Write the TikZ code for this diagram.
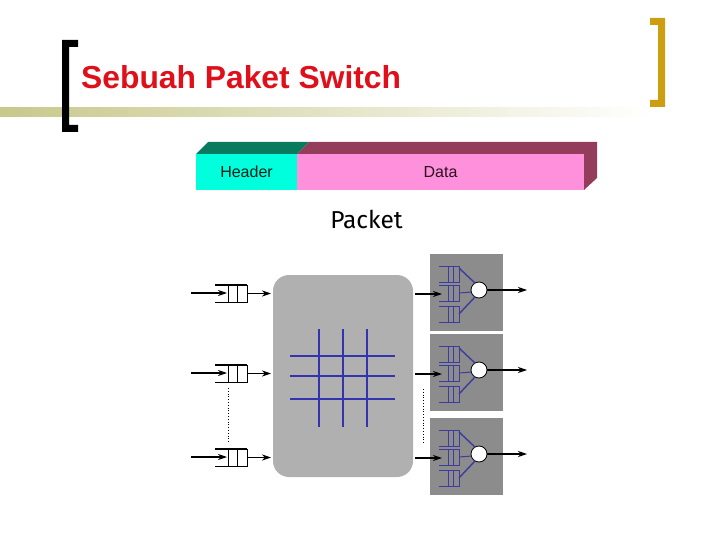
\documentclass[tikz,border=0pt]{standalone}
\usepackage{xcolor}
\usepackage{fontspec}
\setmainfont{Liberation Sans}
\newfontfamily\packetfont{Fira Sans}
\usetikzlibrary{arrows.meta,positioning,calc}
\definecolor{titlered}{HTML}{E0101A}
\definecolor{barolive}{HTML}{C8C88C}
\definecolor{brackgold}{HTML}{CC9E10}
\definecolor{headc}{HTML}{00FFDD}
\definecolor{headtop}{HTML}{087A5E}
\definecolor{datac}{HTML}{FF90DC}
\definecolor{datatop}{HTML}{943C5C}
\definecolor{switchc}{HTML}{B0B0B0}
\definecolor{outc}{HTML}{8C8C8C}
\definecolor{gridc}{HTML}{3434B0}
\definecolor{subq}{HTML}{3C3CA0}
\tikzset{
  cell/.style={inner sep=0pt, outer sep=0pt, minimum height=36pt, font=\fontsize{16}{18}\selectfont},
  arr/.style={-{Stealth[length=9pt, width=6pt]}, line width=1.1pt, draw=black},
  qin/.style={inner sep=0pt, outer sep=0pt, minimum width=32pt, minimum height=17pt},
  qsub/.style={inner sep=0pt, outer sep=0pt, minimum width=20pt, minimum height=16pt},
  outbox/.style={fill=outc, inner sep=0pt, outer sep=0pt, minimum width=73pt, minimum height=77pt},
  sched/.style={circle, draw=black, fill=white, line width=0.8pt, inner sep=0pt, outer sep=0pt, minimum size=16pt},
  gridl/.style={draw=gridc, line width=2pt},
  subl/.style={draw=subq, line width=1pt},
}
\begin{document}
\begin{tikzpicture}[x=1pt, y=-1pt]
  \useasboundingbox (0,0) rectangle (720,540);
  \shade[left color=barolive, right color=white] (0,108) rectangle (652,117);
  \fill[black] (62,40) -- (78,40) -- (78,47) -- (69,47) -- (69,125) -- (78,125) -- (78,132) -- (62,132) -- cycle;
  \fill[brackgold] (650,18) -- (665,18) -- (665,107) -- (650,107) -- (650,100) -- (658,100) -- (658,25) -- (650,25) -- cycle;
  \node[anchor=base west, inner sep=0pt, text=titlered, font=\fontsize{31.8}{34}\selectfont\bfseries] (title) at (81,89) {Sebuah Paket Switch};

  \node[cell, fill=headc, text=black!75!headtop, minimum width=101pt] (header) at (246.5,172) {Header};
  \node[cell, fill=datac, text=black!70!datatop, minimum width=287pt, right=0pt of header] (data) {Data};
  \fill[headtop] (header.north west) -- ++(12,-12) -- ++(101,0) -- (header.north east) -- cycle;
  \fill[datatop] (data.north west) -- ++(12,-12) -- ++(288,0) -- ++(0,36) -- (data.south east) -- (data.north east) -- cycle;
  \node[font=\packetfont\fontsize{24.5}{26}\selectfont, inner sep=0pt] (packet) at (366.5,219) {Packet};

  \node[fill=switchc, rounded corners=16pt, inner sep=0pt, outer sep=0pt, minimum width=140pt, minimum height=202pt] (fabric) at (343,376) {};
  \foreach \y/\w in {356/2.8pt,376/2pt,399/2pt}
    \draw[gridc, line width=\w] (290,\y) -- (395,\y);
  \foreach \x in {319,343,367}
    \draw[gridl] (\x,329) -- (\x,427);

  \foreach \n/\y in {a/290,b/370,c/454} {
    \coordinate (src\n) at (191,\y+3);
    \node[qin] (in\n) at (231,\y+3.5) {};
    \draw[line width=1pt] (in\n.north west) -- (in\n.north east) -- (in\n.south east) -- (in\n.south west);
    \draw[line width=2pt] (in\n.north west) -- (in\n.north east);
    \draw[line width=1pt] (228,\y-5) -- (228,\y+12) (237,\y-5) -- (237,\y+12);
    \draw[arr] (src\n) -- (227,\y+3);
    \draw[arr, shorten >=2pt] (in\n.east) -- (fabric.west |- in\n.east);

    \node[outbox] (box\n) at (466.5,\y+2.5) {};
    \foreach \m/\d in {1/-16,2/3,3/24} {
      \node[qsub] (sq\n\m) at (449,\y+\d) {};
      \draw[subl] (sq\n\m.north west) -- (sq\n\m.north east) -- (sq\n\m.south east) -- (sq\n\m.south west);
      \draw[subl] (448.5,\y+\d-8) -- (448.5,\y+\d+8) (453.5,\y+\d-8) -- (453.5,\y+\d+8);
    }
    \node[sched] (out\n) at (479,\y) {};
    \coordinate (snk\n) at (527,\y);
    \draw[arr] (out\n) -- (snk\n);
    \draw[subl, line width=1.4pt] ([yshift=-2pt]sq\n1.north east) -- (out\n.120);
    \draw[subl] (sq\n2.east) -- (out\n.195);
    \draw[subl, line width=1.4pt] (sq\n3.east) -- (out\n.240);
    \draw[arr] (415,\y+4) -- (442,\y+4);
  }
  \draw[dotted, line width=0.8pt] (228,388) -- (228,442);
  \draw[dotted, line width=0.8pt] (423,389) -- (423,443);
\end{tikzpicture}
\end{document}
